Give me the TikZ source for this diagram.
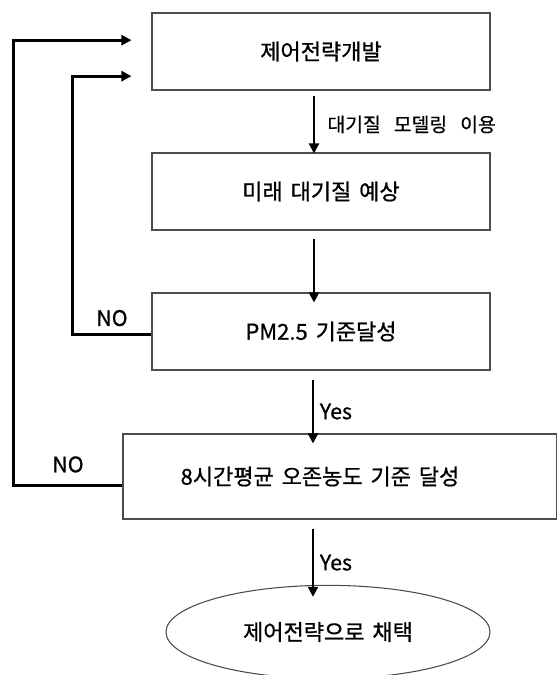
\documentclass[tikz,border=0pt]{standalone}
\usepackage{fontspec}
\setmainfont{Noto Sans CJK KR}[WordSpace=1.6, FakeBold=0.8]
\newfontfamily\notefont{Noto Sans CJK KR}[WordSpace=3, FakeBold=0.6]
\usetikzlibrary{arrows.meta, shapes.geometric}

\begin{document}
\begin{tikzpicture}[x=0.75pt, y=0.75pt,
    box/.style={draw=black!70, line width=0.8pt, rectangle, minimum width=253.5pt, minimum height=57.75pt, font=\fontsize{16.5}{19}\selectfont},
    goal/.style={box, ellipse, minimum width=243pt, minimum height=70pt},
    flow/.style={line width=1.6pt, -{Triangle[length=7.5pt,width=7.5pt]}},
    back/.style={flow, line width=2.3pt, line join=miter},
    note/.style={font=\notefont\fontsize{14.5}{17}\selectfont},
    answer/.style={font=\fontsize{16}{18}\selectfont}]

\useasboundingbox (0,0) rectangle (557,-675);

\node[box] (plan) at (321,-51.5) {제어전략개발};
\node[box] (pred) at (321,-191.5) {미래 대기질 예상};
\node[box] (pm) at (321,-331.5) {PM2.5 기준달성};
\node[box, minimum width=325.5pt, minimum height=63.75pt] (ozone) at (340,-476.5) {};
\node[box, draw=none] (ozonetext) at ([xshift=-15]ozone.center) {8시간평균 오존농도 기준 달성};
\node[goal] (adopt) at (328,-632) {제어전략으로 채택};

\coordinate (in1) at ([xshift=-15, yshift=8.5]plan.west);
\coordinate (in2) at ([xshift=-15, yshift=-18.5]plan.west);

\draw[flow] ([shift={(-7,-5)}]plan.south) -- ([shift={(-7,-1)}]pred.north)
    node[note, midway, right=6pt] {대기질 모델링 이용};
\draw[flow] ([shift={(-7,-8)}]pred.south) -- ([shift={(-7,-10)}]pm.north);
\draw[flow] ([shift={(-8,-9)}]pm.south) -- ([shift={(-27,-10)}]ozone.north)
    node[answer, midway, right=1pt] {Yes};
\draw[flow] ([shift={(-27,-9)}]ozone.south) -- ([shift={(-15,-12)}]adopt.north)
    node[answer, midway, right=1pt] {Yes};

\draw[back] ([yshift=-2.5]pm.west) -- ++(-79,0) node[answer, pos=0.5, above=2pt] {NO} |- (in2);
\draw[back] ([yshift=-6.5]ozone.west) -- ++(-109,0) node[answer, pos=0.5, above=5pt] {NO} |- (in1);
\end{tikzpicture}
\end{document}
